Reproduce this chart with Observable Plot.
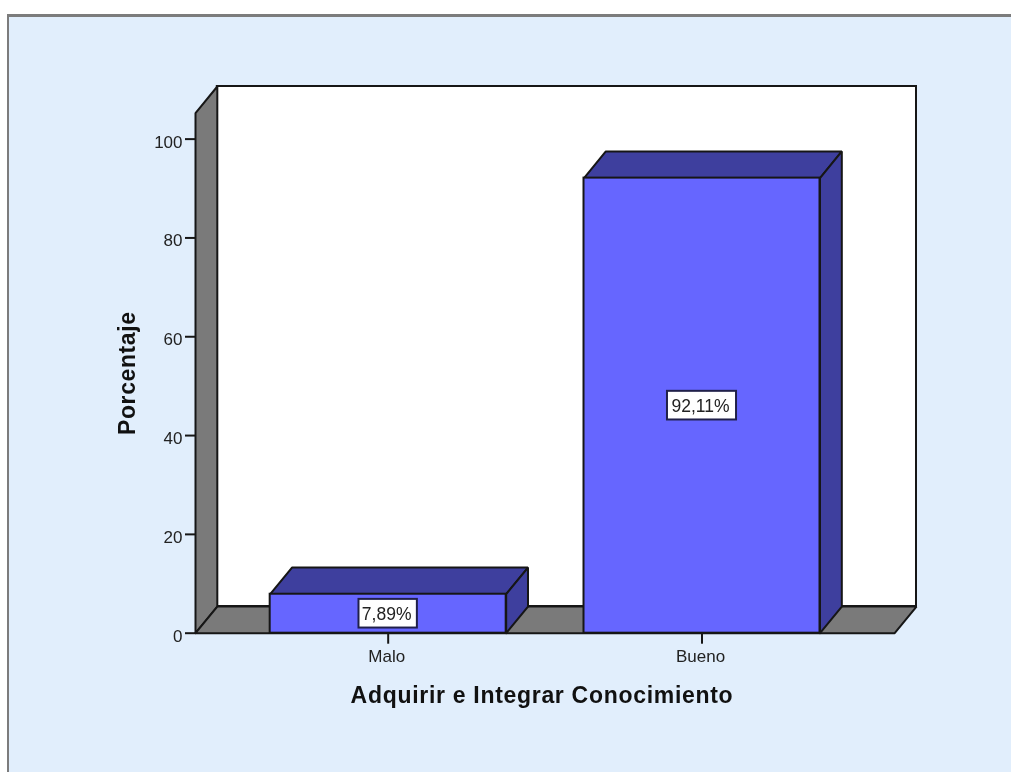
<!DOCTYPE html>
<html>
<head>
<meta charset="utf-8">
<script src="https://cdn.jsdelivr.net/npm/d3@7"></script>
<script src="https://cdn.jsdelivr.net/npm/@observablehq/plot@0.6"></script>
<style>
  html, body { margin: 0; padding: 0; background: #fff; overflow: hidden; }
  #panel { position: absolute; left: 7px; top: 14px; right: 0; bottom: 0; box-sizing: border-box;
           background: #E1EEFC; border-top: 3px solid #7c7c7c; border-left: 2px solid #7c7c7c; }
  #chart { position: absolute; left: 0; top: 0; }
  #chart svg { display: block; filter: blur(0.35px); }
</style>
</head>
<body>
<div id="panel"></div>
<div id="chart"></div>
<script>
// Data
const categories = ["Malo", "Bueno"];
const positions = [0, 1];
const percentages = [7.89, 92.11];
const valueLabels = ["7,89%", "92,11%"];
const labelHalfWidths = [0.093, 0.11];
const yTicks = [0, 20, 40, 60, 80, 100];
const xTitle = "Adquirir e Integrar Conocimiento";
const yTitle = "Porcentaje";

// Extents of the box, in scale units
const barHalf = 0.376, depthX = 0.0695, depthY = 5.4;
const floorL = -0.614, floorR = 1.614, wallTop = 105.25;
const labelHalfHeight = 2.9;

const poly = (id, pts) => pts.concat([pts[0]]).map(([x, y]) => ({id, x, y}));
const leftWall = poly("wall", [[floorL, 0], [floorL + depthX, depthY], [floorL + depthX, wallTop + depthY], [floorL, wallTop]]);
const floor = poly("floor", [[floorL, 0], [floorR, 0], [floorR + depthX, depthY], [floorL + depthX, depthY]]);
const bars = positions.map((p, i) => ({p, v: percentages[i], name: categories[i], label: valueLabels[i], hw: labelHalfWidths[i]}));
const barTops = bars.flatMap((b, i) => poly("top" + i, [[b.p - barHalf, b.v], [b.p + barHalf, b.v], [b.p + barHalf + depthX, b.v + depthY], [b.p - barHalf + depthX, b.v + depthY]]));
const barSides = bars.flatMap((b, i) => poly("side" + i, [[b.p + barHalf, 0], [b.p + barHalf + depthX, depthY], [b.p + barHalf + depthX, b.v + depthY], [b.p + barHalf, b.v]]));

const edge = "#161616", gray = "#7A7A7A", dark = "#3E3F9E", front = "#6666FF", ink = "#222";
const face = (data, fill) => Plot.line(data, {x: "x", y: "y", z: "id", fill, stroke: edge, strokeWidth: 2, strokeLinejoin: "miter"});
const spaced = (spacing) => (index, scales, values, dimensions, context, next) => {
  const g = next(index, scales, values, dimensions, context);
  g.style.letterSpacing = spacing;
  return g;
};

const plot = Plot.plot({
  width: 1011, height: 772,
  marginLeft: 195, marginRight: 95, marginTop: 86, marginBottom: 139.3,
  style: {background: "transparent", fontFamily: "'Liberation Sans', Arial, sans-serif"},
  x: {domain: [floorL, floorR + depthX]},
  y: {domain: [0, wallTop + depthY]},
  marks: [
    Plot.rect([0], {x1: floorL + depthX, x2: floorR + depthX, y1: depthY, y2: wallTop + depthY, fill: "white", stroke: edge, strokeWidth: 2}),
    face(leftWall, gray),
    face(floor, gray),
    face(barTops, dark),
    face(barSides, dark),
    Plot.rect(bars, {x1: d => d.p - barHalf, x2: d => d.p + barHalf, y1: 0, y2: "v", fill: front, stroke: edge, strokeWidth: 2}),
    Plot.rect(bars, {x1: d => d.p - d.hw, x2: d => d.p + d.hw, y1: d => d.v / 2 - labelHalfHeight, y2: d => d.v / 2 + labelHalfHeight, fill: "white", stroke: "#20204a", strokeWidth: 2}),
    Plot.text(bars, {x: "p", y: d => d.v / 2, text: "label", fontSize: 17.5, fill: ink, dx: -1.5, dy: 1}),
    // y axis: ticks, then labels that sit slightly below their ticks
    Plot.axisY({ticks: yTicks, tickSize: 10, tickFormat: () => "", label: null, stroke: edge, strokeWidth: 2, anchor: "left"}),
    Plot.axisY({ticks: yTicks, tickSize: 0, tickPadding: 13, label: null, fontSize: 17, color: ink, dy: 3, anchor: "left"}),
    // x axis
    Plot.axisX({ticks: positions, tickSize: 11, tickFormat: () => "", label: null, stroke: edge, strokeWidth: 2, anchor: "bottom"}),
    Plot.axisX({ticks: positions, tickSize: 0, tickPadding: 17, tickFormat: i => categories[i], label: null, fontSize: 17, color: ink, dx: -1.5, anchor: "bottom"}),
    Plot.text([xTitle], {x: () => 0.49, frameAnchor: "bottom", dy: 70, text: d => d, fontSize: 23, fontWeight: "bold", fill: "#111", render: spaced("0.7px")}),
    Plot.text([yTitle], {y: () => wallTop / 2, frameAnchor: "left", textAnchor: "middle", dx: -68, rotate: -90, text: d => d, fontSize: 23, fontWeight: "bold", fill: "#111", render: spaced("0.6px")})
  ]
});
document.getElementById("chart").append(plot);
</script>
</body>
</html>
